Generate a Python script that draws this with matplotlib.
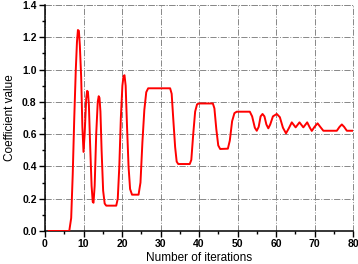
import matplotlib
matplotlib.use("Agg")
import matplotlib.pyplot as plt
from matplotlib.ticker import MultipleLocator

plt.rcParams['font.family'] = ['Liberation Sans', 'DejaVu Sans']

iterations = [1, 6.3, 6.8, 7.2, 7.6, 8.0, 8.3, 8.55, 8.8, 9.05, 9.4, 9.7, 10.0, 10.3, 10.7, 10.95, 11.15,
              11.4, 11.7, 12.1, 12.4, 12.6, 12.9, 13.3, 13.7, 13.95, 14.15, 14.4, 14.7, 15.1, 15.5, 15.9,
              18.5, 18.9, 19.3, 19.7, 20.1, 20.4, 20.65, 20.95, 21.3, 21.7, 22.1, 22.6, 24.3, 24.8,
              25.3, 25.8, 26.3, 26.8, 32.5, 32.9, 33.3, 33.8, 34.2, 34.6, 37.6, 38.0, 38.5,
              39.0, 39.5, 40.0, 43.6, 44.0, 44.5, 45.0, 45.5, 47.5, 48.0, 48.6, 49.2, 49.8,
              53.2, 53.8, 54.5, 55.0, 55.5, 56.0, 56.5, 57.0, 57.5, 58.0, 58.5, 59.2, 60.2,
              61.0, 61.8, 62.6, 63.3, 64.1, 65.1, 66.1, 67.1, 68.1, 68.8, 69.3, 70.0, 70.8,
              71.5, 72.3, 75.8, 76.5, 77.1, 77.7, 78.4, 80]
coefficient = [0, 0, 0.08, 0.35, 0.7, 1.0, 1.17, 1.245, 1.24, 1.15, 0.95, 0.65, 0.49, 0.6, 0.82, 0.868, 0.862,
               0.78, 0.55, 0.28, 0.18, 0.175, 0.28, 0.6, 0.8, 0.835, 0.825, 0.74, 0.5, 0.25, 0.17, 0.157,
               0.157, 0.2, 0.4, 0.7, 0.9, 0.96, 0.965, 0.9, 0.65, 0.4, 0.26, 0.225, 0.225, 0.3,
               0.55, 0.75, 0.86, 0.884, 0.884, 0.85, 0.7, 0.52, 0.43, 0.415, 0.415, 0.44, 0.6,
               0.74, 0.785, 0.79, 0.79, 0.76, 0.63, 0.53, 0.508, 0.51, 0.56, 0.68, 0.73, 0.739,
               0.739, 0.71, 0.64, 0.621, 0.645, 0.71, 0.725, 0.71, 0.66, 0.636, 0.66, 0.71, 0.725,
               0.705, 0.64, 0.605, 0.635, 0.673, 0.642, 0.673, 0.642, 0.673, 0.64, 0.62, 0.645, 0.667,
               0.645, 0.621, 0.621, 0.645, 0.66, 0.645, 0.621, 0.621]

x_ticks = [0, 10, 20, 30, 40, 50, 60, 70, 80]
y_ticks = [0.0, 0.2, 0.4, 0.6, 0.8, 1.0, 1.2, 1.4]

fig = plt.figure(figsize=(3.58, 2.64), dpi=100)
ax = fig.add_axes([45/358, 1-231/264, 308/358, 226/264])

ax.plot(iterations, coefficient, color='#ff0000', lw=1.4, solid_joinstyle='round', zorder=3)

ax.set_xlim(0, 80)
ax.set_ylim(0, 1.4)
ax.set_xticks(x_ticks)
ax.set_yticks(y_ticks)
ax.set_xticklabels([str(v) for v in x_ticks], fontweight='bold', fontsize=7.5)
ax.set_yticklabels([f"{v:.1f}" for v in y_ticks], fontweight='bold', fontsize=7.5)
ax.xaxis.set_minor_locator(MultipleLocator(5))
ax.yaxis.set_minor_locator(MultipleLocator(0.1))
ax.tick_params(which='major', direction='out', length=4, width=1, pad=2)
ax.tick_params(which='minor', direction='out', length=2, width=1)

for s in ['top', 'right']:
    ax.spines[s].set_visible(False)
for s in ['left', 'bottom']:
    ax.spines[s].set_linewidth(1.1)

ax.grid(True, which='major', color='#888888', linestyle='-.', lw=0.7, zorder=0)
ax.set_axisbelow(True)
ax.axhline(1.4, color='#888888', linestyle='-.', lw=0.7, clip_on=False, zorder=0)
ax.axvline(80, color='#888888', linestyle='-.', lw=0.7, clip_on=False, zorder=0)

ax.set_xlabel('Number of iterations', fontsize=8.5, labelpad=2)
ax.set_ylabel('Coefficient value', fontsize=8.5, labelpad=4)

fig.savefig('out.png', dpi=100)
